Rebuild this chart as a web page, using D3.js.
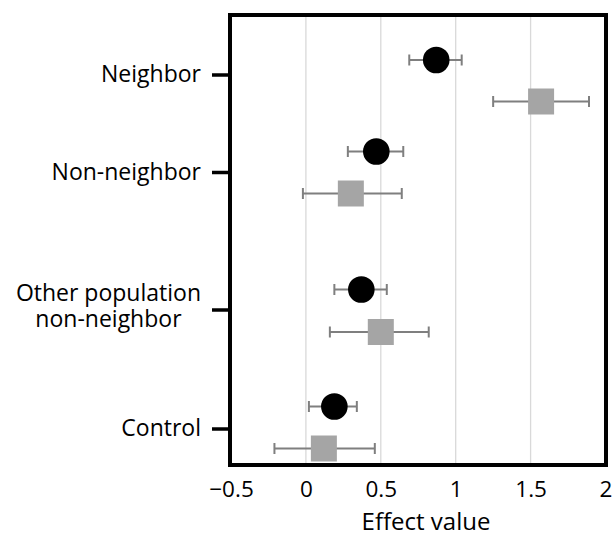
<!DOCTYPE html>
<html>
<head>
<meta charset="utf-8">
<script src="https://cdn.jsdelivr.net/npm/d3@7"></script>
<style>
  body { margin: 0; background: #fff; }
  text { font-family: "Open Sans", sans-serif; fill: #000; }
</style>
</head>
<body>
<div id="chart"></div>
<script>
// category labels and where they sit on the (hidden) numeric y axis
const categories = ['Neighbor', 'Non-neighbor', 'Other population\nnon-neighbor', 'Control'];
const categoryPos = [7.81, 5.86, 3.11, 0.73];

// black circles
const circleMean = [0.87, 0.47, 0.37, 0.19];
const circleLow = [0.69, 0.28, 0.19, 0.02];
const circleHigh = [1.04, 0.65, 0.54, 0.34];
const circlePos = [8.1, 6.27, 3.51, 1.17];

// grey squares
const squareMean = [1.57, 0.30, 0.50, 0.12];
const squareLow = [1.25, -0.02, 0.16, -0.21];
const squareHigh = [1.89, 0.64, 0.82, 0.46];
const squarePos = [7.27, 5.43, 2.66, 0.33];

const xTicks = [-0.5, 0, 0.5, 1, 1.5, 2];
const xTitle = 'Effect value';

const width = 614;
const height = 537;
const plotLeft = 230, plotRight = 606, plotTop = 15, plotBottom = 465;

const svg = d3.select('#chart').append('svg')
    .attr('width', width)
    .attr('height', height);

const x = d3.scaleLinear().domain([-0.5, 2]).range([plotLeft + 1, plotRight - 0.5]);
const y = d3.scaleLinear().domain([0, 9]).range([plotBottom, plotTop]);

// vertical gridlines
svg.append('g').selectAll('line')
    .data(xTicks.slice(1, -1))
    .enter().append('line')
    .attr('x1', d => x(d)).attr('x2', d => x(d))
    .attr('y1', plotTop).attr('y2', plotBottom)
    .attr('stroke', '#d9d9d9')
    .attr('stroke-width', 1.3);

function series(mean, low, high, pos) {
    return mean.map((m, i) => ({ m: m, lo: low[i], hi: high[i], y: pos[i] }));
}

function errorBars(data) {
    const g = svg.append('g')
        .attr('stroke', '#7f7f7f')
        .attr('fill', 'none');
    g.selectAll('.bar').data(data).enter().append('line')
        .attr('x1', d => x(d.lo)).attr('x2', d => x(d.hi))
        .attr('y1', d => y(d.y)).attr('y2', d => y(d.y))
        .attr('stroke-width', 1.8);
    g.selectAll('.capL').data(data).enter().append('line')
        .attr('x1', d => x(d.lo)).attr('x2', d => x(d.lo))
        .attr('y1', d => y(d.y) - 5.5).attr('y2', d => y(d.y) + 5.5)
        .attr('stroke-width', 2);
    g.selectAll('.capR').data(data).enter().append('line')
        .attr('x1', d => x(d.hi)).attr('x2', d => x(d.hi))
        .attr('y1', d => y(d.y) - 5.5).attr('y2', d => y(d.y) + 5.5)
        .attr('stroke-width', 2);
}

const circles = series(circleMean, circleLow, circleHigh, circlePos);
const squares = series(squareMean, squareLow, squareHigh, squarePos);

errorBars(circles);
errorBars(squares);

svg.append('g').selectAll('circle')
    .data(circles)
    .enter().append('circle')
    .attr('cx', d => x(d.m))
    .attr('cy', d => y(d.y))
    .attr('r', 13.3)
    .attr('fill', '#000');

svg.append('g').selectAll('rect')
    .data(squares)
    .enter().append('rect')
    .attr('x', d => x(d.m) - 13)
    .attr('y', d => y(d.y) - 13)
    .attr('width', 26)
    .attr('height', 26)
    .attr('fill', '#a5a5a5');

// y axis: outward ticks and category labels
const yAxis = svg.append('g')
    .attr('transform', 'translate(' + plotLeft + ',0)')
    .call(d3.axisLeft(y)
        .tickValues(categoryPos)
        .tickFormat((d, i) => categories[i])
        .tickSize(18)
        .tickPadding(11));
yAxis.select('.domain').remove();
yAxis.selectAll('.tick line').attr('stroke', '#000').attr('stroke-width', 3.5);
yAxis.selectAll('.tick text')
    .attr('font-size', 23)
    .attr('font-family', '"Open Sans", sans-serif')
    .attr('fill', '#000')
    .each(function() {
        const t = d3.select(this);
        const lines = t.text().split('\n');
        if (lines.length < 2) return;
        const endX = +t.attr('x');
        t.text(null).attr('dy', null).attr('text-anchor', 'middle').attr('x', 0);
        lines.forEach((l, i) => {
            t.append('tspan').text(l)
                .attr('x', 0)
                .attr('y', i === 0 ? -8.6 : 17.4);
        });
        const w = this.getBBox().width;
        t.attr('x', endX - w / 2);
        t.selectAll('tspan').attr('x', endX - w / 2);
    });

// x axis labels, no tick marks
const xAxis = svg.append('g')
    .attr('transform', 'translate(0,' + plotBottom + ')')
    .call(d3.axisBottom(x)
        .tickValues(xTicks)
        .tickFormat(d => String(d).replace('-', '\u2212'))
        .tickSize(0)
        .tickPadding(16));
xAxis.select('.domain').remove();
xAxis.selectAll('.tick text')
    .attr('font-size', 22.5)
    .attr('font-family', '"Open Sans", sans-serif')
    .attr('fill', '#000');

svg.append('text')
    .attr('x', (plotLeft + plotRight) / 2 + 8)
    .attr('y', 530)
    .attr('text-anchor', 'middle')
    .attr('font-size', 24)
    .text(xTitle);

// plot frame
svg.append('rect')
    .attr('x', plotLeft).attr('y', plotTop)
    .attr('width', plotRight - plotLeft).attr('height', plotBottom - plotTop)
    .attr('fill', 'none')
    .attr('stroke', '#000')
    .attr('stroke-width', 4);
</script>
</body>
</html>
